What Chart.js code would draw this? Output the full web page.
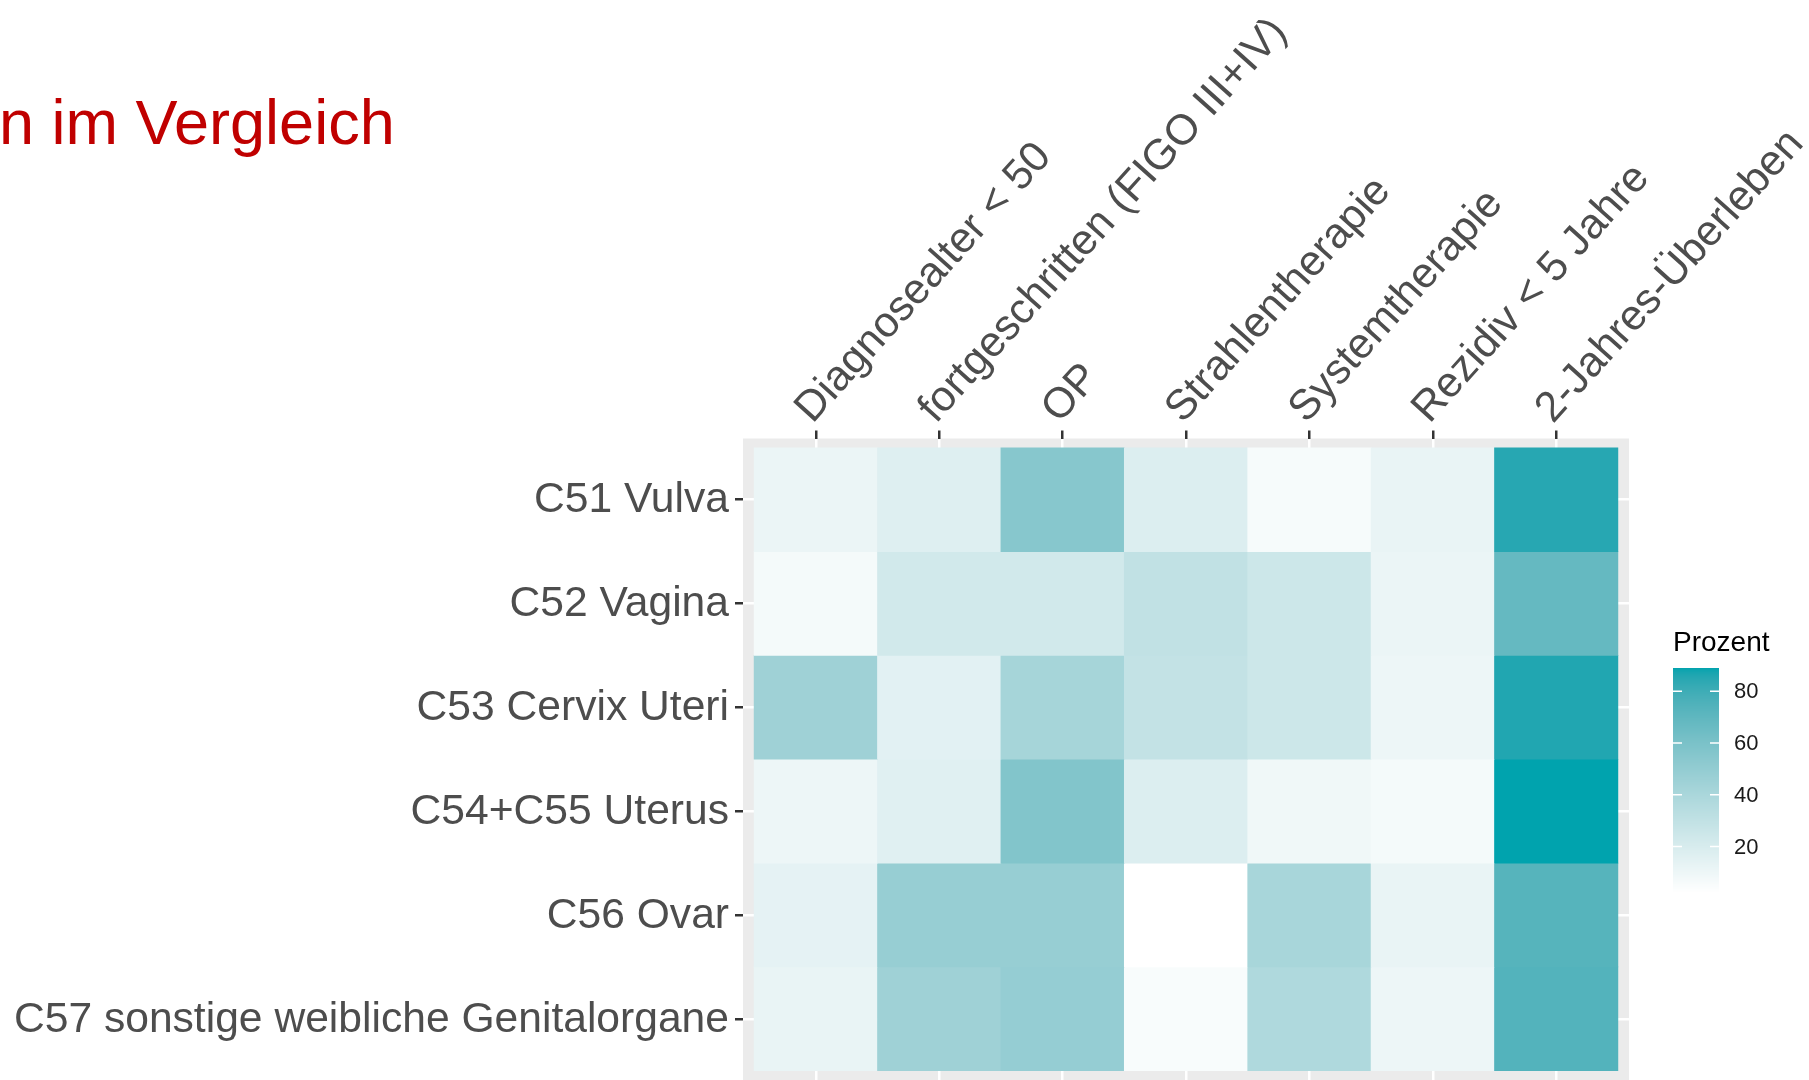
<!DOCTYPE html>
<html>
<head>
<meta charset="utf-8">
<script src="https://cdn.jsdelivr.net/npm/chart.js@4.4.0/dist/chart.umd.min.js"></script>
<style>
  html, body { margin: 0; padding: 0; background: #ffffff; }
  #wrap { width: 1809px; height: 1080px; }
</style>
</head>
<body>
<div id="wrap"><canvas id="myChart" width="1809" height="1080"></canvas></div>
<script>
// Zeilen (Entitäten) und Spalten (Merkmale)
var rows = ['C51 Vulva', 'C52 Vagina', 'C53 Cervix Uteri', 'C54+C55 Uterus', 'C56 Ovar', 'C57 sonstige weibliche Genitalorgane'];
var columns = ['Diagnosealter < 50', 'fortgeschritten (FIGO III+IV)', 'OP', 'Strahlentherapie', 'Systemtherapie', 'Rezidiv < 5 Jahre', '2-Jahres-Überleben'];

// Prozentwerte je Entität, in Spaltenreihenfolge
var vulva    = [11, 17, 55, 18, 6, 12, 85];
var vagina   = [7, 23, 23, 30, 25, 11, 68];
var cervix   = [45, 15, 42, 29, 25, 10, 86];
var uterus   = [10, 16, 57, 18, 9, 7, 89];
var ovar     = [14, 48, 48, 2, 41, 12, 73];
var sonstige = [12, 45, 49, 5, 38, 10, 74];

var legendTicks = [20, 40, 60, 80];

var values = [vulva, vagina, cervix, uterus, ovar, sonstige];
var all = [].concat.apply([], values);
var vmin = Math.min.apply(null, all);
var vmax = Math.max.apply(null, all);

// Farbverlauf weiss -> petrol, interpoliert im Lab-Raum (wie ggplot)
var lowColor = [255, 255, 255];
var highColor = [0, 163, 174];

function toLin(c) { c = c / 255; return c <= 0.04045 ? c / 12.92 : Math.pow((c + 0.055) / 1.055, 2.4); }
function toSrgb(c) {
    c = c <= 0.0031308 ? 12.92 * c : 1.055 * Math.pow(c, 1 / 2.4) - 0.055;
    return Math.round(Math.max(0, Math.min(1, c)) * 255);
}
function f(t) { return t > 0.008856 ? Math.cbrt(t) : 7.787 * t + 16 / 116; }
function finv(t) { return t > 0.206893 ? t * t * t : (t - 16 / 116) / 7.787; }
function rgbToLab(c) {
    var r = toLin(c[0]), g = toLin(c[1]), b = toLin(c[2]);
    var X = (0.4124 * r + 0.3576 * g + 0.1805 * b) / 0.95047;
    var Y = 0.2126 * r + 0.7152 * g + 0.0722 * b;
    var Z = (0.0193 * r + 0.1192 * g + 0.9505 * b) / 1.08883;
    return [116 * f(Y) - 16, 500 * (f(X) - f(Y)), 200 * (f(Y) - f(Z))];
}
function labToRgb(l) {
    var fy = (l[0] + 16) / 116, fx = fy + l[1] / 500, fz = fy - l[2] / 200;
    var X = finv(fx) * 0.95047, Y = finv(fy), Z = finv(fz) * 1.08883;
    var r = 3.2406 * X - 1.5372 * Y - 0.4986 * Z;
    var g = -0.9689 * X + 1.8758 * Y + 0.0415 * Z;
    var b = 0.0557 * X - 0.2040 * Y + 1.0570 * Z;
    return 'rgb(' + toSrgb(r) + ',' + toSrgb(g) + ',' + toSrgb(b) + ')';
}
var labLow = rgbToLab(lowColor), labHigh = rgbToLab(highColor);
function fillColor(v) {
    var t = (v - vmin) / (vmax - vmin);
    return labToRgb([0, 1, 2].map(function (k) { return labLow[k] + (labHigh[k] - labLow[k]) * t; }));
}

var font = "'Liberation Sans', Arial, sans-serif";
var pad = 0.09; // Rand um die Kacheln (diskrete Achse)

// grauer Panel-Hintergrund
var panelBg = {
    id: 'panelBg',
    beforeDraw: function (chart) {
        var a = chart.chartArea, ctx = chart.ctx;
        ctx.save();
        ctx.fillStyle = '#EBEBEB';
        ctx.fillRect(a.left, a.top, a.right - a.left, a.bottom - a.top);
        ctx.restore();
    }
};

// Titelrest und Farblegende
var extras = {
    id: 'extras',
    afterDraw: function (chart) {
        var ctx = chart.ctx;
        ctx.save();
        ctx.fillStyle = '#C00000';
        ctx.font = '63px ' + font;
        ctx.textBaseline = 'alphabetic';
        ctx.textAlign = 'left';
        ctx.fillText('n im Vergleich', -1, 144);

        // Legende
        var x0 = 1673, w = 46, top = 668, bottom = 893;
        var toY = function (v) { return bottom - (v - vmin) / (vmax - vmin) * (bottom - top); };
        ctx.fillStyle = '#000000';
        ctx.font = '28px ' + font;
        ctx.fillText('Prozent', 1673, 651);
        for (var y = top; y < bottom; y++) {
            var v = vmin + (bottom - y - 0.5) / (bottom - top) * (vmax - vmin);
            ctx.fillStyle = fillColor(v);
            ctx.fillRect(x0, y, w, 1);
        }
        ctx.strokeStyle = '#FFFFFF';
        ctx.lineWidth = 1.5;
        ctx.font = '22px ' + font;
        ctx.textBaseline = 'middle';
        legendTicks.forEach(function (t) {
            var ty = toY(t);
            ctx.beginPath();
            ctx.moveTo(x0, ty); ctx.lineTo(x0 + 9, ty);
            ctx.moveTo(x0 + w - 9, ty); ctx.lineTo(x0 + w, ty);
            ctx.stroke();
            ctx.fillStyle = '#1A1A1A';
            ctx.fillText(String(t), 1734, ty + 1);
        });
        ctx.restore();
    }
};

var ctx = document.getElementById('myChart').getContext('2d');
var myChart = new Chart(ctx, {
    type: 'bar',
    data: {
        datasets: rows.map(function (r, i) {
            return {
                label: r,
                data: values[i].map(function (v, j) { return { x: j, y: [i - 0.5, i + 0.5] }; }),
                backgroundColor: values[i].map(fillColor),
                borderWidth: 0,
                grouped: false,
                barPercentage: 1,
                categoryPercentage: 1
            };
        })
    },
    options: {
        responsive: false,
        animation: false,
        layout: { padding: { left: 0, top: 0, right: 180, bottom: 0 } },
        plugins: { legend: { display: false }, tooltip: { enabled: false }, title: { display: false } },
        scales: {
            x: {
                type: 'linear',
                position: 'top',
                bounds: 'data',
                offset: false,
                min: -0.5 - pad,
                max: columns.length - 0.5 + pad,
                afterBuildTicks: function (s) { s.ticks = columns.map(function (c, i) { return { value: i }; }); },
                afterFit: function (s) { s.height = 438.5; s.paddingLeft = 0; s.paddingRight = 0; },
                ticks: {
                    autoSkip: false,
                    minRotation: 48,
                    maxRotation: 48,
                    padding: -3,
                    labelOffset: 26,
                    color: '#4D4D4D',
                    font: { family: font, size: 42.6 },
                    callback: function (v) { return columns[v]; }
                },
                grid: { offset: false, color: '#FFFFFF', lineWidth: 2.5, tickColor: '#333333', tickLength: 8, tickWidth: 2.5 },
                border: { display: false }
            },
            y: {
                type: 'linear',
                reverse: true,
                bounds: 'data',
                offset: false,
                min: -0.5 - pad,
                max: rows.length - 0.5 + pad,
                afterBuildTicks: function (s) { s.ticks = rows.map(function (r, i) { return { value: i }; }); },
                afterFit: function (s) { s.width = 743; s.paddingTop = 0; s.paddingBottom = 0; },
                ticks: {
                    autoSkip: false,
                    padding: 6,
                    labelOffset: 1,
                    color: '#4D4D4D',
                    font: { family: font, size: 42.6 },
                    callback: function (v) { return rows[v]; }
                },
                grid: { offset: false, color: '#FFFFFF', lineWidth: 2.5, tickColor: '#333333', tickLength: 8, tickWidth: 2.5 },
                border: { display: false }
            }
        }
    },
    plugins: [panelBg, extras]
});
</script>
</body>
</html>
